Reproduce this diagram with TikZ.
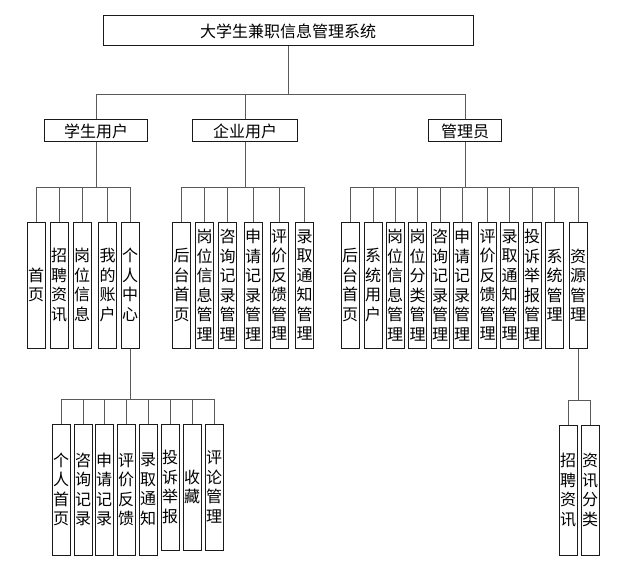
\documentclass[tikz,border=0pt]{standalone}
\usepackage{fontspec}
\newfontfamily\cjk{Noto Sans CJK SC}
\usetikzlibrary{positioning}
\definecolor{ink}{HTML}{1A1A1A}
\definecolor{wire}{HTML}{5A5A5A}
\tikzset{
  hbox/.style={draw=ink,fill=white,line width=1pt,inner sep=0pt,
               font=\cjk\fontsize{16}{19.5}\selectfont},
  vbox/.style={draw=ink,fill=white,line width=1pt,inner sep=0pt,
               minimum width=18pt,minimum height=126pt,align=center,
               font=\cjk\fontsize{16}{19.5}\selectfont},
  conn/.style={draw=wire,line width=0.9pt}
}
\begin{document}
\begin{tikzpicture}[x=1pt,y=-1pt]
    \path[use as bounding box] (0,0) rectangle (621,575);
    % top and user levels
    \node[hbox,minimum width=370pt,minimum height=30pt] (sys) at (288,31) {大学生兼职信息管理系统};
    \node[hbox,minimum width=103pt,minimum height=22pt] (stu) at (96,131) {学生用户};
    \node[hbox,minimum width=105pt,minimum height=22pt] (ent) at (245,131) {企业用户};
    \node[hbox,minimum width=73pt,minimum height=22pt] (adm) at (465,131) {管理员};
    \foreach \u in {stu,ent,adm}{
      \draw[conn] (sys.south) -- ++(0,48) -| (\u.north);
    }
    % student functions
    \foreach \n/\xx/\t in {1/36/{首\\页}, 2/59/{招\\聘\\资\\讯}, 3/82/{岗\\位\\信\\息},
                           4/107.5/{我\\的\\账\\户}, 5/130/{个\\人\\中\\心}}{
      \node[vbox] (s\n) at (\xx,285) {\t};
      \draw[conn] (stu.south) -- ++(0,45) -| (s\n.north);
    }
    % enterprise functions
    \foreach \n/\xx/\t in {1/181.5/{后\\台\\首\\页}, 2/204.5/{岗\\位\\信\\息\\管\\理},
                           3/227.5/{咨\\询\\记\\录\\管\\理}, 4/253/{申\\请\\记\\录\\管\\理},
                           5/279/{评\\价\\反\\馈\\管\\理}, 6/304.5/{录\\取\\通\\知\\管\\理}}{
      \node[vbox] (e\n) at (\xx,285) {\t};
      \draw[conn] (ent.south) -- ++(0,45) -| (e\n.north);
    }
    % admin functions
    \foreach \n/\xx/\t in {1/350/{后\\台\\首\\页}, 2/373/{系\\统\\用\\户},
                           3/395/{岗\\位\\信\\息\\管\\理}, 4/417.5/{岗\\位\\分\\类\\管\\理},
                           5/440/{咨\\询\\记\\录\\管\\理}, 6/462/{申\\请\\记\\录\\管\\理},
                           7/487.5/{评\\价\\反\\馈\\管\\理}, 8/509.5/{录\\取\\通\\知\\管\\理},
                           9/532/{投\\诉\\举\\报\\管\\理}, 10/554.5/{系\\统\\管\\理},
                           11/578/{资\\源\\管\\理}}{
      \node[vbox] (a\n) at (\xx,285) {\t};
      \draw[conn] (adm.south) -- ++(0,45) -| (a\n.north);
    }
    % personal centre
    \foreach \n/\xx/\t in {1/61/{个\\人\\首\\页}, 2/83/{咨\\询\\记\\录}, 3/104/{申\\请\\记\\录},
                           4/126/{评\\价\\反\\馈}, 5/148/{录\\取\\通\\知}}{
      \node[vbox,minimum height=131pt] (p\n) at (\xx,489.5) {\t};
      \draw[conn] (s5.south) -- ++(0,51) -| (p\n.north);
    }
    \foreach \n/\xx/\t in {6/170/{投\\诉\\举\\报}, 7/192/{收\\藏}, 8/214/{评\\论\\管\\理}}{
      \node[vbox] (p\n) at (\xx,487) {\t};
      \draw[conn] (s5.south) -- ++(0,51) -| (p\n.north);
    }
    % resource management
    \foreach \n/\xx/\t in {1/568/{招\\聘\\资\\讯}, 2/590/{资\\讯\\分\\类}}{
      \node[vbox,minimum height=130pt] (r\n) at (\xx,490) {\t};
      \draw[conn] (a11.south) -- ++(0,52) -| (r\n.north);
    }
\end{tikzpicture}
\end{document}
